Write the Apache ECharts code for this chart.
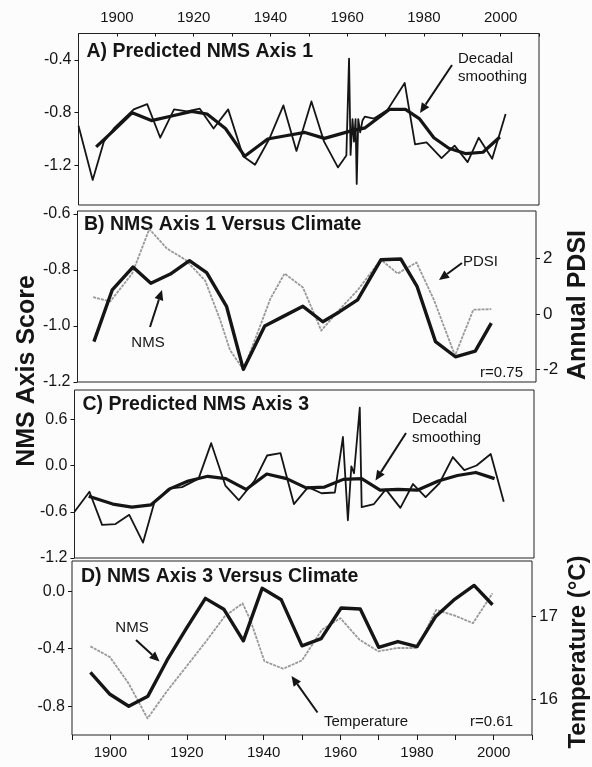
<!DOCTYPE html>
<html>
<head>
<meta charset="utf-8">
<script src="https://cdn.jsdelivr.net/npm/echarts@6/dist/echarts.min.js"></script>
<style>
  html, body { margin: 0; padding: 0; background: #fcfcfc; }
  #main { width: 592px; height: 767px; }
</style>
</head>
<body>
<div id="main"></div>
<script>
// A) predicted NMS axis 1 + decadal smoothing
var aRawYears = [1890, 1893.7, 1896.6, 1899.2, 1904.4, 1907.9, 1911.3, 1914.9, 1918.3, 1921.6, 1925.2, 1929, 1932.9, 1936, 1939.7, 1943.4, 1946.8, 1950.7, 1954, 1957.6, 1959.8, 1960.5, 1960.9, 1961.4, 1961.8, 1962.2, 1962.5, 1962.9, 1963.4, 1964, 1964.6, 1967, 1970.5, 1975, 1977.7, 1980.7, 1984.6, 1988, 1991.4, 1994.3, 1997.8, 2001.3]
var aRawValues = [-0.90, -1.31, -1.02, -0.92, -0.775, -0.735, -0.99, -0.775, -0.79, -0.77, -0.92, -0.775, -1.13, -1.195, -1.0, -0.745, -1.09, -0.715, -1.02, -1.215, -1.125, -0.39, -1.12, -0.85, -1.02, -0.85, -1.34, -0.85, -0.95, -0.86, -0.83, -0.845, -0.78, -0.575, -1.04, -1.025, -1.145, -1.05, -1.175, -0.99, -1.15, -0.81]
var aSmoothYears = [1894.6, 1899, 1904, 1909, 1914.3, 1919.5, 1923.5, 1928.3, 1933.3, 1939.3, 1944, 1949, 1954.1, 1960.8, 1964.7, 1971, 1975.2, 1978.8, 1982.6, 1986.5, 1990.8, 1995.4, 1999.8]
var aSmoothValues = [-1.06, -0.94, -0.80, -0.86, -0.825, -0.79, -0.81, -0.92, -1.13, -1.0, -0.975, -0.95, -0.995, -0.94, -0.915, -0.775, -0.775, -0.845, -0.99, -1.07, -1.11, -1.10, -0.985]

// B) NMS axis 1 versus PDSI
var bNmsYears = [1894.3, 1899.1, 1904.5, 1909.2, 1914.3, 1919.3, 1923.8, 1929, 1933.4, 1939, 1944, 1949, 1954.2, 1958.5, 1963.3, 1969.4, 1974.6, 1978.9, 1983.7, 1988.9, 1994.1, 1998.3]
var bNmsValues = [-1.056, -0.871, -0.79, -0.848, -0.815, -0.767, -0.81, -0.93, -1.155, -1.0, -0.965, -0.93, -0.985, -0.95, -0.907, -0.764, -0.761, -0.86, -1.056, -1.11, -1.09, -0.99]
var bPdsiYears = [1894.1, 1898.6, 1904.3, 1908.8, 1913.4, 1918.2, 1923.4, 1927.3, 1929.9, 1933.4, 1936.8, 1940.5, 1944.2, 1949, 1953.8, 1958.2, 1963.3, 1969.4, 1973.8, 1978.7, 1983.3, 1988.8, 1993.6, 1998.3]
var bPdsiValues = [0.6, 0.45, 1.45, 3.05, 2.35, 1.95, 1.2, -0.2, -1.3, -2.0, -0.8, 0.55, 1.45, 0.95, -0.6, 0.1, 0.85, 1.95, 1.45, 1.85, 0.5, -1.5, 0.15, 0.17]

// C) predicted NMS axis 3 + decadal smoothing
var cRawYears = [1890, 1893.9, 1897.2, 1900.7, 1904.3, 1907.9, 1910.9, 1914.6, 1918.1, 1922.4, 1925.7, 1929.4, 1932.9, 1937, 1940.3, 1943.8, 1947.3, 1951, 1954.5, 1958, 1960.1, 1961.4, 1962.3, 1963, 1964.5, 1965, 1968.2, 1971.3, 1975.1, 1978.4, 1981.7, 1985.3, 1988.8, 1991.8, 1995, 1998.7, 2002.1]
var cRawValues = [-0.6, -0.34, -0.77, -0.76, -0.64, -1.0, -0.47, -0.3, -0.28, -0.17, 0.29, -0.26, -0.45, -0.2, 0.13, 0.16, -0.5, -0.28, -0.36, -0.35, 0.37, -0.71, -0.01, -0.1, 0.75, -0.54, -0.5, -0.31, -0.55, -0.24, -0.41, -0.23, 0.11, -0.06, 0.0, 0.15, -0.47]
var cSmoothYears = [1893.7, 1900, 1905, 1910, 1915, 1919.7, 1924.8, 1929.5, 1934.8, 1940.2, 1945.4, 1950.5, 1955.3, 1960.2, 1965, 1969.8, 1974.5, 1979.5, 1985, 1990, 1994.8, 1999.7]
var cSmoothValues = [-0.40, -0.50, -0.54, -0.51, -0.30, -0.20, -0.14, -0.17, -0.31, -0.11, -0.17, -0.29, -0.28, -0.18, -0.17, -0.32, -0.31, -0.32, -0.20, -0.13, -0.09, -0.17]

// D) NMS axis 3 versus temperature
var dNmsYears = [1894.8, 1899.9, 1904.8, 1909.8, 1914.8, 1919.8, 1924.8, 1929.6, 1934.7, 1939.6, 1944.6, 1950, 1955, 1960.2, 1965.2, 1970, 1975, 1980, 1984.8, 1989.9, 1994.9, 1999.7]
var dNmsValues = [-0.565, -0.717, -0.80, -0.73, -0.48, -0.26, -0.05, -0.125, -0.345, 0.02, -0.06, -0.38, -0.33, -0.117, -0.124, -0.39, -0.35, -0.385, -0.178, -0.055, 0.04, -0.094]
var dTempYears = [1894.8, 1899.9, 1904.8, 1909.7, 1914.8, 1919.9, 1924.8, 1929.8, 1934.5, 1936.5, 1940.2, 1945.1, 1950, 1955.2, 1960, 1965, 1969.9, 1974.9, 1980, 1985, 1989.9, 1994.6, 1999.7]
var dTempValues = [16.64, 16.51, 16.19, 15.77, 16.1, 16.4, 16.69, 17.0, 17.16, 16.96, 16.46, 16.37, 16.47, 16.84, 16.98, 16.72, 16.58, 16.62, 16.62, 17.08, 17.01, 16.92, 17.28]

// tick labels
var yearTicks = [1890, 1900, 1910, 1920, 1930, 1940, 1950, 1960, 1970, 1980, 1990, 2000, 2010]
var yearLabels = [1900, 1920, 1940, 1960, 1980, 2000]
var aTicks = [-1.2, -0.8, -0.4]
var bTicks = [-1.2, -1.0, -0.8, -0.6]
var pdsiTicks = [-2, 0, 2]
var cTicks = [-1.2, -0.6, 0.0, 0.6]
var dTicks = [-0.8, -0.4, 0.0]
var tempTicks = [16, 17]

var FONT = 'Liberation Sans, Arial, sans-serif'
var INK = '#151515'

function zip(xs, ys) {
  return xs.map(function (x, i) { return [x, ys[i]] })
}

function xAxisFor(idx, pos, showLabels, showTicks, tickInside) {
  return {
    type: 'value', gridIndex: idx, position: pos,
    min: 1890, max: 2010,
    axisLine: { show: false, onZero: false },
    splitLine: { show: false },
    axisTick: {
      show: showTicks, inside: tickInside, length: tickInside ? 3 : 5,
      customValues: yearTicks, lineStyle: { color: INK, width: 1 }
    },
    axisLabel: {
      show: showLabels, customValues: yearLabels, margin: tickInside ? 8 : 10,
      color: INK, fontSize: 15, fontFamily: FONT,
      formatter: function (v) { return String(Math.round(v)) }
    }
  }
}

function yAxisFor(idx, pos, min, max, ticks, fmt, size) {
  return {
    type: 'value', gridIndex: idx, position: pos,
    min: min, max: max,
    axisLine: { show: false, onZero: false },
    splitLine: { show: false },
    axisTick: { show: true, length: 4, customValues: ticks, lineStyle: { color: INK } },
    axisLabel: {
      customValues: ticks, margin: 7, color: INK, fontSize: size, fontFamily: FONT,
      formatter: fmt
    }
  }
}

function fixed1(v) { return (Math.abs(v) < 1e-9 ? 0 : v).toFixed(1) }
function whole(v) { return String(Math.round(v)) }

function line(name, data, xi, yi, width, color, dash, z) {
  return {
    name: name, type: 'line', xAxisIndex: xi, yAxisIndex: yi,
    data: data, showSymbol: false, symbol: 'none', z: z,
    lineStyle: { width: width, color: color, type: dash || 'solid', join: 'round' }
  }
}

function txt(x, y, s, size, bold, align, rot) {
  return {
    type: 'text', x: x, y: y, rotation: rot || 0,
    style: {
      text: s, fontSize: size, fontWeight: bold ? 'bold' : 'normal', fontFamily: FONT,
      fill: INK, align: align || 'left', verticalAlign: 'middle'
    }
  }
}

function arrow(x1, y1, x2, y2) {
  var a = Math.atan2(y2 - y1, x2 - x1), L = 10, W = 4.5
  var bx = x2 - L * Math.cos(a), by = y2 - L * Math.sin(a)
  var px = -Math.sin(a) * W, py = Math.cos(a) * W
  return [
    { type: 'line', shape: { x1: x1, y1: y1, x2: bx, y2: by }, style: { stroke: INK, lineWidth: 2 } },
    { type: 'polygon', shape: { points: [[x2, y2], [bx + px, by + py], [bx - px, by - py]] }, style: { fill: INK } }
  ]
}

var gridBox = { show: true, borderColor: '#222', borderWidth: 1, backgroundColor: 'transparent' }

var myChart = echarts.init(document.getElementById('main'))
var gray = '#999999'

var option = {
  backgroundColor: '#fcfcfc',
  animation: false,
  grid: [
    Object.assign({ left: 78.5, top: 33.5, width: 460.5, height: 171.5 }, gridBox),
    Object.assign({ left: 77.5, top: 211, width: 458.5, height: 171 }, gridBox),
    Object.assign({ left: 74.5, top: 390, width: 459.5, height: 168 }, gridBox),
    Object.assign({ left: 72, top: 561, width: 460, height: 174 }, gridBox)
  ],
  xAxis: [
    xAxisFor(0, 'top', true, true, true),
    xAxisFor(1, 'bottom', false, false, true),
    xAxisFor(2, 'bottom', false, false, true),
    xAxisFor(3, 'bottom', true, true, false)
  ],
  yAxis: [
    yAxisFor(0, 'left', -1.5, -0.2, aTicks, fixed1, 16),
    yAxisFor(1, 'left', -1.2, -0.59, bTicks, fixed1, 16),
    yAxisFor(1, 'right', -2.45, 3.7, pdsiTicks, whole, 17),
    yAxisFor(2, 'left', -1.2, 0.98, cTicks, fixed1, 16),
    yAxisFor(3, 'left', -1.0, 0.21, dTicks, fixed1, 16),
    yAxisFor(3, 'right', 15.57, 17.67, tempTicks, whole, 17)
  ],
  series: [
    line('A raw', zip(aRawYears, aRawValues), 0, 0, 1.8, INK, null, 3),
    line('A smooth', zip(aSmoothYears, aSmoothValues), 0, 0, 3.2, INK, null, 4),
    line('PDSI', zip(bPdsiYears, bPdsiValues), 1, 2, 1.8, gray, [3, 1], 2),
    line('B NMS', zip(bNmsYears, bNmsValues), 1, 1, 3.4, INK, null, 4),
    line('C raw', zip(cRawYears, cRawValues), 2, 3, 1.8, INK, null, 3),
    line('C smooth', zip(cSmoothYears, cSmoothValues), 2, 3, 3.2, INK, null, 4),
    line('Temperature', zip(dTempYears, dTempValues), 3, 5, 1.8, gray, [3, 1], 2),
    line('D NMS', zip(dNmsYears, dNmsValues), 3, 4, 3.4, INK, null, 4)
  ],
  graphic: [].concat(
    [
      txt(86.5, 51.5, 'A) Predicted NMS Axis 1', 19.5, true),
      txt(458, 59, 'Decadal', 15, false),
      txt(458, 77, 'smoothing', 15, false),
      txt(84, 225, 'B) NMS Axis 1 Versus Climate', 19.5, true),
      txt(463, 262, 'PDSI', 15, false),
      txt(148, 343, 'NMS', 15, false, 'center'),
      txt(523, 373, 'r=0.75', 15, false, 'right'),
      txt(82.5, 405, 'C) Predicted NMS Axis 3', 19.5, true),
      txt(412, 419, 'Decadal', 15, false),
      txt(412, 438, 'smoothing', 15, false),
      txt(81, 577, 'D) NMS Axis 3 Versus Climate', 19.5, true),
      txt(132, 628, 'NMS', 15, false, 'center'),
      txt(324, 722, 'Temperature', 15, false),
      txt(513, 722, 'r=0.61', 15, false, 'right'),
      txt(27, 371, 'NMS Axis Score', 25, true, 'center', Math.PI / 2),
      txt(578, 305, 'Annual PDSI', 25, true, 'center', Math.PI / 2),
      txt(578, 652, 'Temperature (°C)', 24, true, 'center', Math.PI / 2)
    ],
    arrow(452, 65, 420, 113),
    arrow(462, 263, 439, 280),
    arrow(150, 327, 162, 290),
    arrow(406, 433, 375.5, 480.5),
    arrow(136, 640, 159.5, 661.5),
    arrow(317.5, 712.5, 291.5, 676)
  )
}

myChart.setOption(option)
</script>
</body>
</html>
